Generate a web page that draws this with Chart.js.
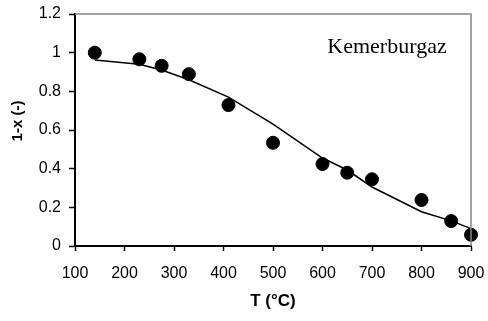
<!DOCTYPE html>
<html>
<head>
<meta charset="utf-8">
<script src="https://cdn.jsdelivr.net/npm/chart.js@4"></script>
<style>
html,body{margin:0;padding:0;background:#fff;}
#wrap{width:488px;height:321px;position:relative;}
</style>
</head>
<body>
<div id="wrap"><canvas id="c" width="488" height="321"></canvas></div>
<script>
// Measured data points
const pointT = [140, 230, 275, 330, 410, 500, 600, 650, 700, 800, 860, 900];
const pointY = [1.0, 0.966, 0.932, 0.889, 0.729, 0.534, 0.424, 0.379, 0.345, 0.238, 0.129, 0.058];
// Model curve
const lineT = [140, 230, 275, 330, 410, 500, 600, 650, 700, 800, 860, 900, 912];
const lineY = [0.962, 0.94, 0.91, 0.86, 0.77, 0.63, 0.455, 0.393, 0.305, 0.177, 0.13, 0.09, 0.078];
// Axes
const xTicks = [100, 200, 300, 400, 500, 600, 700, 800, 900];
const yTicks = [0, 0.2, 0.4, 0.6, 0.8, 1, 1.2];
const xTitle = 'T (°C)';
const yTitle = '1-x (-)';
const label = 'Kemerburgaz';

const frame = {
  id: 'frame',
  afterDatasetsDraw(chart) {
    const {ctx, chartArea: a} = chart;
    ctx.save();
    ctx.strokeStyle = '#868686';
    ctx.lineWidth = 1.5;
    ctx.beginPath();
    ctx.moveTo(a.left, a.top);
    ctx.lineTo(a.right, a.top);
    ctx.lineTo(a.right, a.bottom);
    ctx.stroke();
    ctx.fillStyle = '#000';
    ctx.font = '22px "Liberation Serif", "Times New Roman", serif';
    ctx.textAlign = 'center';
    ctx.textBaseline = 'alphabetic';
    ctx.fillText(label, 387, 53);
    // y axis title
    ctx.translate(18, 121);
    ctx.rotate(-Math.PI / 2);
    ctx.font = 'bold 15px "Liberation Sans", Arial, sans-serif';
    ctx.textBaseline = 'middle';
    ctx.fillText(yTitle, 0, 0);
    ctx.restore();
  }
};

const tickFont = {family: '"Liberation Sans", Arial, sans-serif', size: 16};
const titleFont = {family: '"Liberation Sans", Arial, sans-serif', size: 17, weight: 'bold'};

new Chart(document.getElementById('c'), {
  type: 'scatter',
  data: {
    datasets: [
      {
        data: lineT.map((t, i) => ({x: t, y: lineY[i]})),
        showLine: true,
        borderColor: '#000',
        borderWidth: 1.5,
        pointRadius: 0,
        fill: false,
        clip: false,
        order: 2
      },
      {
        data: pointT.map((t, i) => ({x: t, y: pointY[i]})),
        backgroundColor: '#000',
        borderColor: '#000',
        pointRadius: 6.5,
        pointHoverRadius: 6.5,
        clip: false,
        order: 1
      }
    ]
  },
  options: {
    responsive: false,
    animation: false,
    devicePixelRatio: 1,
    layout: {padding: {top: 14, right: 17, left: 0, bottom: 0}},
    plugins: {legend: {display: false}, tooltip: {enabled: false}},
    scales: {
      x: {
        type: 'linear',
        min: 100, max: 900,
        afterBuildTicks: s => { s.ticks = xTicks.map(v => ({value: v})); },
        afterFit: s => { s.height = 75; s.paddingLeft = 0; s.paddingRight = 0; },
        ticks: {color: '#000', font: tickFont, padding: 13, maxRotation: 0},
        grid: {drawOnChartArea: false, tickLength: 5, tickColor: '#000', tickWidth: 1.5},
        border: {color: '#000', width: 2},
        title: {display: true, text: xTitle, color: '#000', font: titleFont, padding: {top: 0, bottom: 9}}
      },
      y: {
        min: 0, max: 1.2,
        afterBuildTicks: s => { s.ticks = yTicks.map(v => ({value: v})); },
        afterFit: s => { s.width = 75; s.paddingTop = 0; s.paddingBottom = 0; },
        ticks: {color: '#000', font: tickFont, padding: 8, callback: v => String(Math.round(v * 10) / 10)},
        grid: {drawOnChartArea: false, tickLength: 6, tickColor: '#000', tickWidth: 1.5},
        border: {color: '#000', width: 2},
        title: {display: false}
      }
    }
  },
  plugins: [frame]
});
</script>
</body>
</html>
